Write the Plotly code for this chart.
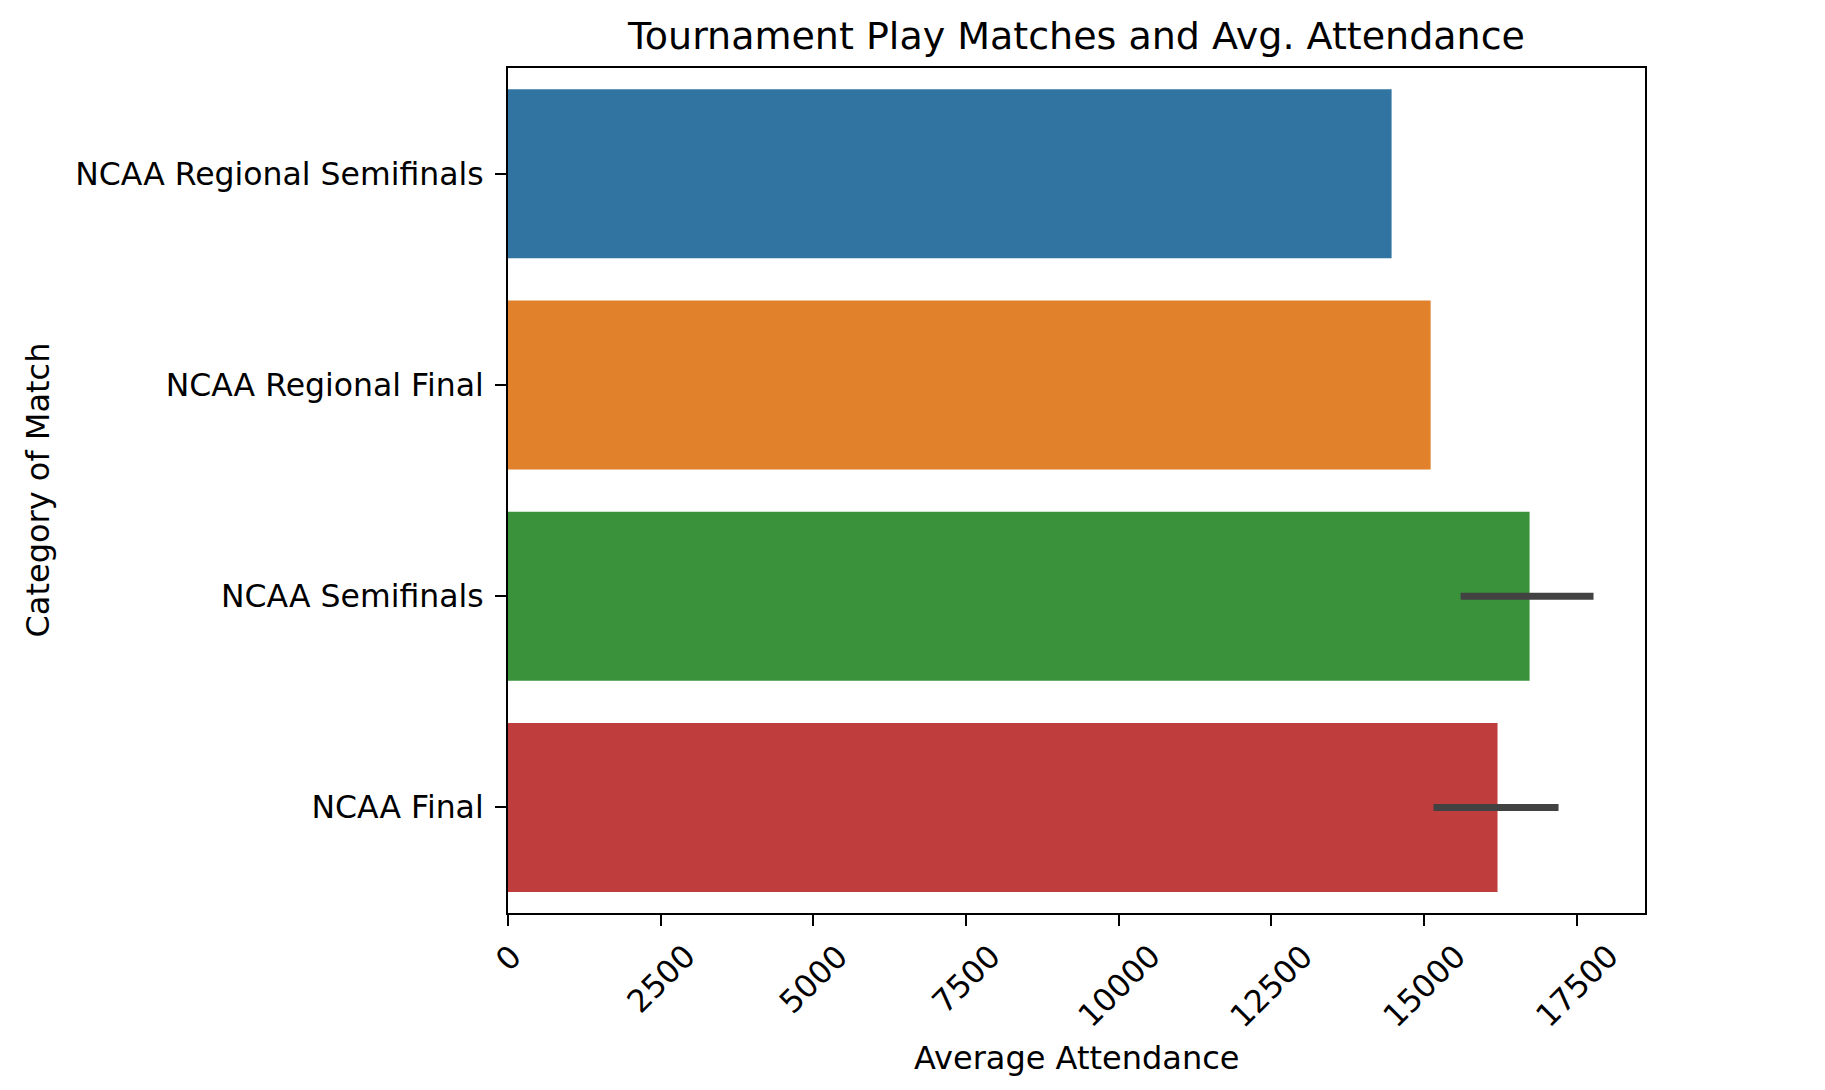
import plotly.graph_objects as go

# ---- data ----
categories = ["NCAA Regional Semifinals", "NCAA Regional Final", "NCAA Semifinals", "NCAA Final"]
mean_attendance = [14470, 15110, 16730, 16205]
ci_low = [None, None, 15600, 15156]
ci_high = [None, None, 17777, 17204]
bar_colors = ["#3274a1", "#e1812c", "#3a923a", "#c03d3e"]
x_tick_values = [0, 2500, 5000, 7500, 10000, 12500, 15000, 17500]
x_tick_labels = ["0", "2500", "5000", "7500", "10000", "12500", "15000", "17500"]

FONT = "DejaVu Sans"
fig = go.Figure()

for cat, val, lo, hi, col in zip(categories, mean_attendance, ci_low, ci_high, bar_colors):
    err = None
    if lo is not None and hi is not None:
        err = dict(type="data", symmetric=False, array=[hi - val], arrayminus=[val - lo],
                   color="#424242", thickness=7, width=0, visible=True)
    fig.add_trace(go.Bar(
        x=[val], y=[cat], orientation="h", width=0.8,
        marker=dict(color=col, line=dict(width=0)),
        error_x=err, showlegend=False, hoverinfo="x+y",
    ))

annotations = []
for v, t in zip(x_tick_values, x_tick_labels):
    annotations.append(dict(
        x=v, xref="x", y=0, yref="paper", text=t, showarrow=False,
        textangle=-45, xanchor="center", yanchor="top", yshift=-22,
        font=dict(family=FONT, size=31.5, color="black"),
    ))
annotations.append(dict(
    x=0.5, xref="paper", y=0, yref="paper", text="Average Attendance", showarrow=False,
    xanchor="center", yanchor="middle", yshift=-145,
    font=dict(family=FONT, size=32, color="black"),
))
annotations.append(dict(
    x=0, xref="paper", y=0.5, yref="paper", text="Category of Match", showarrow=False,
    textangle=-90, xanchor="center", yanchor="middle", xshift=-471,
    font=dict(family=FONT, size=32, color="black"),
))

fig.update_layout(
    width=1817, height=1082,
    margin=dict(l=500, r=180, t=60, b=177),
    paper_bgcolor="white", plot_bgcolor="white",
    barmode="overlay",
    title=dict(text="Tournament Play Matches and Avg. Attendance",
               x=0.5, xref="paper", xanchor="center",
               y=1 - 28 / 1082, yref="container", yanchor="middle",
               font=dict(family=FONT, size=38, color="black")),
    annotations=annotations,
    font=dict(family=FONT, color="black"),
)

fig.update_xaxes(
    range=[0, 18620], showgrid=False, zeroline=False,
    tickmode="array", tickvals=x_tick_values, showticklabels=False,
    ticks="outside", ticklen=11, tickwidth=2, tickcolor="black",
    showline=True, linecolor="black", linewidth=2, mirror=True,
)
fig.update_yaxes(
    type="category", categoryorder="array", categoryarray=categories,
    range=[3.5, -0.5], showgrid=False, zeroline=False,
    ticks="outside", ticklen=11, tickwidth=2, tickcolor="black",
    ticklabelstandoff=5,
    tickfont=dict(family=FONT, size=31.5, color="black"),
    showline=True, linecolor="black", linewidth=2, mirror=True,
)

fig.write_html("out.html")
